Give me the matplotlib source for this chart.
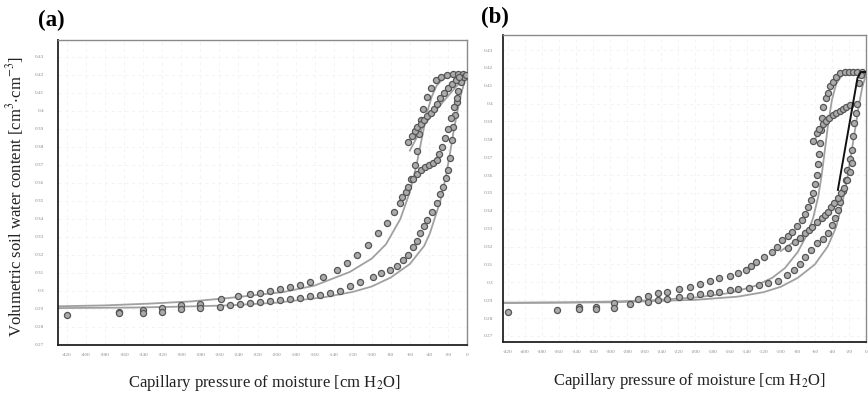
import matplotlib
matplotlib.use("Agg")
import matplotlib.pyplot as plt

plt.rcParams['font.family'] = ['Liberation Serif', 'DejaVu Serif']
plt.rcParams['mathtext.fontset'] = 'stix'

# ---------------- data: panel (a) ----------------
a_up_p = [-365, -340, -320, -300, -280, -258, -240, -228, -217, -207, -196, -186, -175, -165, -151,
          -137, -126, -115, -104, -93, -84, -77, -70, -64, -59, -55, -52, -50, -48, -46, -42, -38,
          -33, -27, -21, -15, -9, -4]
a_up_t = [0.2883, 0.2894, 0.2906, 0.292, 0.2928, 0.2956, 0.2972, 0.2983, 0.2989, 0.300, 0.3011,
          0.3022, 0.3033, 0.305, 0.3078, 0.3117, 0.3156, 0.320, 0.3255, 0.332, 0.338, 0.344, 0.349,
          0.355, 0.362, 0.370, 0.378, 0.387, 0.395, 0.401, 0.408, 0.413, 0.417, 0.419, 0.420,
          0.4205, 0.4205, 0.4205]
a_lo_p = [-420, -365, -340, -320, -300, -280, -259, -249, -238, -228, -217, -207, -196, -186, -175,
          -165, -154, -144, -133, -123, -112, -99, -90, -81, -74, -67, -62, -57, -53, -49, -45, -42,
          -37, -32, -28, -25, -22, -20, -18, -16, -15, -13, -11, -9, -6, -3, -1]
a_lo_t = [0.2867, 0.2875, 0.2878, 0.2883, 0.290, 0.2906, 0.2911, 0.2922, 0.2928, 0.2933, 0.2939,
          0.2944, 0.295, 0.2956, 0.2961, 0.2972, 0.2978, 0.2989, 0.300, 0.3025, 0.305, 0.3078, 0.310,
          0.3117, 0.314, 0.3172, 0.320, 0.3244, 0.328, 0.3322, 0.336, 0.3394, 0.344, 0.3489, 0.354,
          0.358, 0.363, 0.3672, 0.374, 0.3839, 0.391, 0.398, 0.405, 0.411, 0.416, 0.419, 0.420]
a_s1_p = [-62, -58, -55, -52, -48, -45, -42, -38, -35, -32, -28, -24, -20, -16, -12, -8]
a_s1_t = [0.383, 0.386, 0.389, 0.391, 0.393, 0.395, 0.397, 0.399, 0.401, 0.404, 0.407, 0.410,
          0.413, 0.415, 0.417, 0.419]
a_s2_p = [-68, -62, -57, -53, -48, -44, -40, -36, -32, -29, -26, -23, -20, -17, -14, -11]
a_s2_t = [0.352, 0.358, 0.362, 0.365, 0.367, 0.369, 0.370, 0.371, 0.373, 0.376, 0.380, 0.385,
          0.390, 0.396, 0.402, 0.407]
# fitted lines (a)
a_fu_p = [-430, -380, -333, -290, -252, -193, -160, -123, -100, -85, -70, -60, -53, -47, -42, -37,
          -32, -25, -15, 0]
a_fu_t = [0.2915, 0.292, 0.293, 0.2942, 0.296, 0.2994, 0.303, 0.3106, 0.318, 0.326, 0.340, 0.355,
          0.370, 0.386, 0.399, 0.408, 0.414, 0.418, 0.4198, 0.4205]
a_fl_p = [-430, -350, -300, -250, -200, -150, -120, -100, -80, -60, -45, -39, -28, -22, -18, -14,
          -10, -6, -2, 0]
a_fl_t = [0.2905, 0.2908, 0.2913, 0.292, 0.2935, 0.2965, 0.2995, 0.3025, 0.3075, 0.315, 0.325,
          0.332, 0.350, 0.364, 0.376, 0.389, 0.400, 0.410, 0.417, 0.420]
a_fs_p = [-60, -52, -45, -38, -30, -22, -14, -7, 0]
a_fs_t = [0.378, 0.386, 0.392, 0.397, 0.402, 0.407, 0.412, 0.416, 0.419]

# ---------------- data: panel (b) ----------------
b_up_p = [-337, -317, -296, -277, -267, -256, -244, -233, -219, -206, -195, -183, -172, -160, -150,
          -141, -135, -129, -120, -110, -104, -98, -92, -87, -81, -75, -71, -68, -65, -62, -60, -58,
          -56, -55, -54, -53, -52, -50, -47, -45, -42, -39, -35, -30, -25, -20, -15, -10, -5]
b_up_t = [0.2864, 0.2864, 0.2883, 0.2877, 0.2907, 0.2924, 0.2939, 0.2948, 0.2961, 0.2976, 0.2991,
          0.3009, 0.3023, 0.3035, 0.305, 0.3069, 0.309, 0.3114, 0.314, 0.317, 0.320, 0.3237, 0.326,
          0.3282, 0.3315, 0.3349, 0.338, 0.3422, 0.346, 0.350, 0.355, 0.360, 0.366, 0.372, 0.378,
          0.385, 0.392, 0.398, 0.403, 0.406, 0.410, 0.412, 0.415, 0.417, 0.4177, 0.4177, 0.4177,
          0.4177, 0.4177]
b_lo_p = [-420, -362, -337, -317, -296, -256, -244, -233, -219, -206, -195, -183, -172, -160, -150,
          -137, -125, -115, -103, -93, -85, -78, -71, -64, -57, -50, -45, -40, -36, -33, -30, -27,
          -24, -22, -19, -17, -15, -14, -12, -10, -8, -6]
b_lo_t = [0.2836, 0.2845, 0.2849, 0.285, 0.2855, 0.2892, 0.2901, 0.2905, 0.2916, 0.2924, 0.2933,
          0.2939, 0.2945, 0.2955, 0.2962, 0.297, 0.2985, 0.2995, 0.3008, 0.304, 0.307, 0.3105,
          0.3142, 0.318, 0.322, 0.3245, 0.3276, 0.332, 0.336, 0.3405, 0.345, 0.351, 0.357, 0.3629,
          0.369, 0.374, 0.382, 0.389, 0.395, 0.400, 0.4115, 0.416]
b_s1_p = [-91, -83, -77, -71, -67, -63, -57, -52, -48, -45, -41, -37, -33, -29, -26, -22, -19, -16]
b_s1_t = [0.3192, 0.3226, 0.325, 0.3276, 0.329, 0.331, 0.3335, 0.336, 0.3375, 0.3394, 0.342,
          0.3444, 0.347, 0.350, 0.353, 0.357, 0.362, 0.367]
b_s2_p = [-62, -58, -55, -51, -47, -43, -39, -35, -31, -27, -23, -19]
b_s2_t = [0.379, 0.3835, 0.386, 0.3885, 0.390, 0.392, 0.3935, 0.395, 0.396, 0.397, 0.398, 0.399]
# fitted lines (b)
b_fu_p = [-426, -350, -300, -250, -200, -160, -130, -110, -95, -80, -70, -62, -56, -52, -48, -44,
          -40, -35, -28, -20, 0]
b_fu_t = [0.2886, 0.2888, 0.2892, 0.290, 0.2915, 0.294, 0.298, 0.3025, 0.308, 0.317, 0.326, 0.336,
          0.348, 0.360, 0.375, 0.390, 0.402, 0.411, 0.416, 0.4177, 0.4177]
b_fl_p = [-426, -300, -200, -150, -120, -100, -80, -60, -45, -35, -28, -22, -17, -12, -8, -4, 0]
b_fl_t = [0.2884, 0.2888, 0.2902, 0.292, 0.2945, 0.2975, 0.3025, 0.310, 0.320, 0.331, 0.344, 0.358,
          0.373, 0.388, 0.400, 0.410, 0.416]
b_fs1_p = [-100, -85, -70, -58, -48, -40, -33, -27]
b_fs1_t = [0.3175, 0.3225, 0.328, 0.333, 0.3375, 0.342, 0.3465, 0.351]
b_fs2_p = [-60, -50, -40, -30, -22, -15]
b_fs2_t = [0.380, 0.3875, 0.3925, 0.3955, 0.3975, 0.3995]
b_blk_p = [-33, -10, -6, 0]
b_blk_t = [0.3517, 0.4143, 0.4177, 0.4177]

x_ticks = list(range(-420, 1, 20))
y_ticks = [0.27, 0.28, 0.29, 0.30, 0.31, 0.32, 0.33, 0.34, 0.35, 0.36, 0.37, 0.38, 0.39,
           0.40, 0.41, 0.42, 0.43]

xlabel = 'Capillary pressure of moisture [cm H$_2$O]'
ylabel = r'Volumetric soil water content [cm$^3$$\cdot$cm$^{-3}$]'

W, H = 868, 394
fig = plt.figure(figsize=(W / 100, H / 100), dpi=100)


def frac(l, t, r, b):
    return [l / W, 1 - b / H, (r - l) / W, (b - t) / H]


ax_a = fig.add_axes(frac(58, 40, 467, 345))
ax_b = fig.add_axes(frac(503, 35, 866, 342))

dot = dict(ls='none', marker='o', ms=4.4, mfc='#ababab', mec='#555555', mew=0.9, zorder=3)
line = dict(color='#a0a0a0', lw=1.3, zorder=2)


def style(ax, xlim, ylim, ypad):
    ax.set_xlim(*xlim)
    ax.set_ylim(*ylim)
    ax.set_xticks(x_ticks)
    ax.set_xticklabels([str(v) for v in x_ticks])
    ax.set_yticks(y_ticks)
    ax.set_yticklabels([('%.2f' % v).rstrip('0') for v in y_ticks])
    ax.tick_params(length=0, labelsize=3.8, labelcolor='#8c8c8c')
    ax.tick_params(axis='x', pad=6)
    ax.tick_params(axis='y', pad=ypad)
    for s in ('left', 'bottom'):
        ax.spines[s].set_color('#222222')
        ax.spines[s].set_linewidth(1.3)
    for s in ('top', 'right'):
        ax.spines[s].set_color('#8a8a8a')
        ax.spines[s].set_linewidth(1.0)
    ax.grid(True, color='#f2f2f2', lw=0.6, ls=(0, (4, 4)))
    ax.set_axisbelow(True)


# panel (a)
ax_a.plot(a_fu_p, a_fu_t, **line)
ax_a.plot(a_fl_p, a_fl_t, **line)
ax_a.plot(a_fs_p, a_fs_t, **line)
ax_a.plot(a_up_p, a_up_t, **dot)
ax_a.plot(a_lo_p, a_lo_t, **dot)
ax_a.plot(a_s1_p, a_s1_t, **dot)
ax_a.plot(a_s2_p, a_s2_t, **dot)
style(ax_a, (-429.5, 0), (0.27, 0.4394), 10)

# panel (b)
ax_b.plot(b_fu_p, b_fu_t, **line)
ax_b.plot(b_fl_p, b_fl_t, **line)
ax_b.plot(b_fs1_p, b_fs1_t, **line)
ax_b.plot(b_fs2_p, b_fs2_t, **line)
ax_b.plot(b_up_p, b_up_t, **dot)
ax_b.plot(b_lo_p, b_lo_t, **dot)
ax_b.plot(b_s1_p, b_s1_t, **dot)
ax_b.plot(b_s2_p, b_s2_t, **dot)
ax_b.plot(b_blk_p, b_blk_t, color='#111111', lw=1.4, zorder=4)
style(ax_b, (-425.8, 0), (0.2666, 0.4384), 7)

fig.text(51 / W, 1 - 20 / H, '(a)', fontsize=16.5, fontweight='bold', ha='center', va='center')
fig.text(495 / W, 1 - 17 / H, '(b)', fontsize=16.5, fontweight='bold', ha='center', va='center')
fig.text(265 / W, 1 - 383 / H, xlabel, fontsize=12, ha='center', va='center', color='#222222')
fig.text(690 / W, 1 - 381 / H, xlabel, fontsize=12, ha='center', va='center', color='#222222')
fig.text(15 / W, 1 - 196 / H, ylabel, fontsize=12, rotation=90, ha='center', va='center',
         color='#222222')

fig.savefig('out.png', dpi=100)
